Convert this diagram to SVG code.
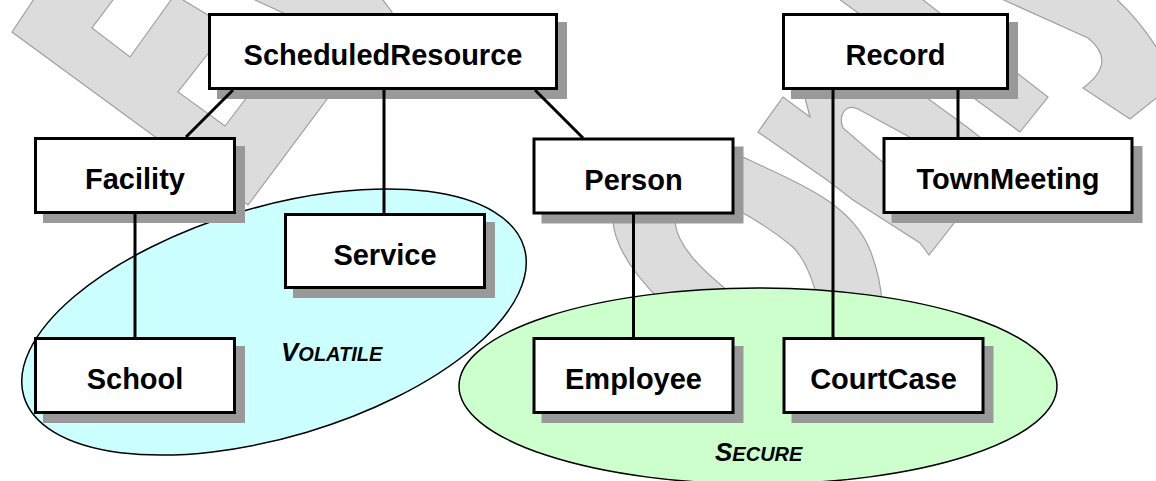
<svg xmlns="http://www.w3.org/2000/svg" width="1156" height="481" viewBox="0 0 1156 481">
<style>
.wm{fill:#dcdcdc;stroke:#a0a0a0;stroke-width:1.2;stroke-linejoin:miter}
.slot{fill:#ffffff;stroke:#a0a0a0;stroke-width:1.2}
.sh{fill:#999999}
.box{fill:#ffffff;stroke:#000000;stroke-width:3}
.lbl{font-family:"Liberation Sans",Arial,sans-serif;font-weight:bold;font-size:29px;fill:#000000;text-anchor:middle}
.grp{font-family:"Liberation Sans",Arial,sans-serif;font-weight:bold;font-style:italic;fill:#000000}
.con{stroke:#000000;stroke-width:3;fill:none}
</style>
<rect x="0" y="0" width="1156" height="481" fill="#ffffff"/>
<g id="watermark">
<path class="wm" d="M36,-4 L12,32 L248,205 L392,12 L380,-4 L250,-4 L255,0 L290,16 L250,60 L247,97 L225,126 L178,92 L214,46 L222,24 L208,15 L183,0 L178,-4 L171,0 L130,57 L92,28 L113,0 L116,-4 Z"/>
<path class="wm" d="M610,205 L613,222 C615,245 630,270 660,300 L740,300 C700,270 677,245 675,222 L672,205 Z"/>
<path class="wm" d="M738,150 L743,157 C790,180 850,200 870,250 Q880,275 882,302 L818,302 Q810,265 793,247 Q770,228 743,213 L735,210 Z"/>
<path class="wm" d="M758,132 L783,97 L810,117 L803,90 L925,90 L927,98 L967,127 L990,145 L990,215 L955,222 L929,255 L920,243 L853,200 L827,180 Z"/>
<path class="slot" d="M915,140 L858,109 C845,103 838,116 843,128 L886,165 Z"/>
<path class="wm" d="M835,-4 L918,-4 L1048,97 L1020,132 Z"/>
<path class="wm" d="M995,-4 L1088,38 Q1118,62 1083,88 L1130,119 L1160,95 L1160,53 Q1140,20 1113,-4 Z"/>
</g>
<g id="groups">
<ellipse cx="274" cy="322" rx="261" ry="115" transform="rotate(-16.6 274 322)" fill="#ccffff" stroke="#000000" stroke-width="1.5"/>
<ellipse cx="758" cy="386" rx="299" ry="98" fill="#ccffcc" stroke="#000000" stroke-width="1.5"/>
<text class="grp" x="281" y="361"><tspan font-size="26">V</tspan><tspan font-size="20">OLATILE</tspan></text>
<text class="grp" x="715" y="461"><tspan font-size="26">S</tspan><tspan font-size="20">ECURE</tspan></text>
</g>
<g id="shadows">
<rect class="sh" x="217" y="22" width="350" height="77"/>
<rect class="sh" x="43" y="146" width="202" height="77"/>
<rect class="sh" x="541.5" y="146.5" width="202" height="77"/>
<rect class="sh" x="293" y="222" width="202" height="76"/>
<rect class="sh" x="43" y="346" width="202" height="77"/>
<rect class="sh" x="541.5" y="346" width="202" height="77"/>
<rect class="sh" x="791.5" y="346" width="202" height="77"/>
<rect class="sh" x="791" y="22" width="227" height="77"/>
<rect class="sh" x="891.5" y="146" width="251" height="77"/>
</g>
<g id="connectors">
<line class="con" x1="233" y1="90" x2="186" y2="137"/>
<line class="con" x1="384" y1="90" x2="384" y2="213"/>
<line class="con" x1="535" y1="90" x2="583" y2="138"/>
<line class="con" x1="135" y1="213" x2="135" y2="337"/>
<line class="con" x1="633.5" y1="214" x2="633.5" y2="337"/>
<line class="con" x1="833" y1="90" x2="833" y2="337"/>
<line class="con" x1="958" y1="90" x2="958" y2="137"/>
</g>
<g id="node-scheduledresource"><rect class="box" x="209.5" y="14.5" width="347" height="74"/><text class="lbl" x="383" y="65">ScheduledResource</text></g>
<g id="node-facility"><rect class="box" x="35.5" y="138.5" width="199" height="74"/><text class="lbl" x="135" y="189">Facility</text></g>
<g id="node-person"><rect class="box" x="534" y="139" width="199" height="74"/><text class="lbl" x="633.5" y="189.5">Person</text></g>
<g id="node-service"><rect class="box" x="285.5" y="214.5" width="199" height="73"/><text class="lbl" x="385" y="264.5">Service</text></g>
<g id="node-school"><rect class="box" x="35.5" y="338.5" width="199" height="74"/><text class="lbl" x="135" y="389">School</text></g>
<g id="node-employee"><rect class="box" x="534" y="338.5" width="199" height="74"/><text class="lbl" x="633.5" y="389">Employee</text></g>
<g id="node-courtcase"><rect class="box" x="784" y="338.5" width="199" height="74"/><text class="lbl" x="883.5" y="389">CourtCase</text></g>
<g id="node-record"><rect class="box" x="783.5" y="14.5" width="224" height="74"/><text class="lbl" x="895.5" y="65">Record</text></g>
<g id="node-townmeeting"><rect class="box" x="884" y="138.5" width="248" height="74"/><text class="lbl" x="1008" y="189">TownMeeting</text></g>
</svg>
